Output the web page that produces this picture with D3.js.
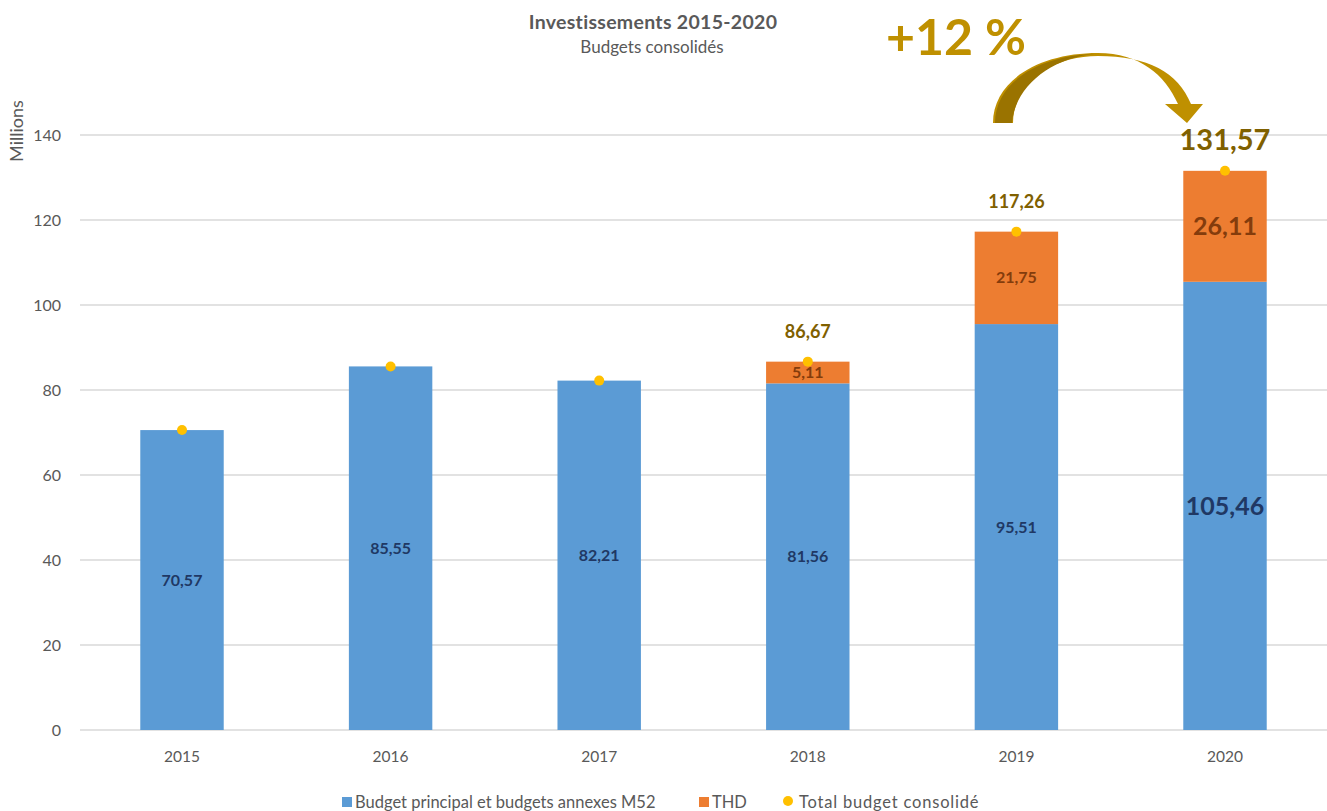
<!DOCTYPE html>
<html><head><meta charset="utf-8">
<script src="https://cdn.jsdelivr.net/npm/d3@7"></script>
<style>body{margin:0;background:#fff;}svg{display:block;font-family:Lato,"Open Sans",sans-serif;}</style>
</head><body>
<svg id="c" width="1327" height="811"></svg>
<script>
const years = ["2015","2016","2017","2018","2019","2020"];
const budgetPrincipal = [70.57, 85.55, 82.21, 81.56, 95.51, 105.46];
const thd = [0, 0, 0, 5.11, 21.75, 26.11];
const totalConsolide = [70.57, 85.55, 82.21, 86.67, 117.26, 131.57];
const showTotalLabel = [false, false, false, true, true, true];
const bigLabel = [false, false, false, false, false, true];
const yTicks = [0, 20, 40, 60, 80, 100, 120, 140];
const legendItems = ["Budget principal et budgets annexes M52", "THD", "Total budget consolidé"];

const svg = d3.select("#c");
const x = d3.scaleBand().domain(years).range([77.7, 1329.3]).paddingInner(0.6).paddingOuter(0.3);
const y = d3.scaleLinear().domain([0, 140]).range([730, 135]);

// gridlines
svg.append("g").selectAll("line").data(yTicks).join("line")
  .attr("x1", 80).attr("x2", 1327)
  .attr("y1", d => y(d)).attr("y2", d => y(d))
  .attr("stroke", "#D9D9D9").attr("stroke-width", 1.3);

// y tick labels
svg.append("g").selectAll("text").data(yTicks).join("text")
  .attr("x", 61).attr("y", d => y(d)).attr("dy", "0.35em")
  .attr("text-anchor", "end").attr("font-size", 16).attr("fill", "#595959")
  .text(d => d);

// x labels
svg.append("g").selectAll("text").data(years).join("text")
  .attr("x", d => x(d) + x.bandwidth()/2).attr("y", 762)
  .attr("text-anchor", "middle").attr("font-size", 15.5).attr("fill", "#595959")
  .text(d => d);

// Millions
svg.append("text").attr("transform", "translate(23,131) rotate(-90)")
  .attr("text-anchor", "middle").attr("font-size", 18).attr("fill", "#595959").text("Millions");

// Title
svg.append("text").attr("x", 653).attr("y", 29).attr("text-anchor", "middle")
  .attr("font-size", 19.5).attr("font-weight", "bold").attr("letter-spacing", 0.3).attr("fill", "#595959").text("Investissements 2015-2020");
svg.append("text").attr("x", 652).attr("y", 53).attr("text-anchor", "middle")
  .attr("font-size", 17).attr("fill", "#595959").text("Budgets consolidés");

const data = years.map((yr, i) => ({yr, b: budgetPrincipal[i], t: thd[i], tot: totalConsolide[i], show: showTotalLabel[i], big: bigLabel[i]}));

// blue bars
svg.append("g").selectAll("rect").data(data).join("rect")
  .attr("x", d => x(d.yr)).attr("width", x.bandwidth())
  .attr("y", d => y(d.b)).attr("height", d => y(0) - y(d.b))
  .attr("fill", "#5B9BD5");
// orange bars
svg.append("g").selectAll("rect").data(data.filter(d => d.t > 0)).join("rect")
  .attr("x", d => x(d.yr)).attr("width", x.bandwidth())
  .attr("y", d => y(d.b + d.t)).attr("height", d => y(d.b) - y(d.b + d.t))
  .attr("fill", "#ED7D31");

const fmt = v => v.toFixed(2).replace(".", ",");
// blue labels
svg.append("g").selectAll("text").data(data).join("text")
  .attr("x", d => x(d.yr) + x.bandwidth()/2).attr("y", d => y(d.b/2)).attr("dy", "0.35em")
  .attr("text-anchor", "middle").attr("font-weight", "bold")
  .attr("font-size", d => d.big ? 25 : 16).attr("fill", "#203864")
  .text(d => fmt(d.b));
// orange labels
svg.append("g").selectAll("text").data(data.filter(d => d.t > 0)).join("text")
  .attr("x", d => x(d.yr) + x.bandwidth()/2).attr("y", d => y(d.b + d.t/2)).attr("dy", "0.35em")
  .attr("text-anchor", "middle").attr("font-weight", "bold")
  .attr("font-size", d => d.big ? 25 : 16).attr("fill", "#843C0C")
  .text(d => fmt(d.t));
// dots
svg.append("g").selectAll("circle").data(data).join("circle")
  .attr("cx", d => x(d.yr) + x.bandwidth()/2).attr("cy", d => y(d.tot)).attr("r", 5)
  .attr("fill", "#FFC000");
// total labels
svg.append("g").selectAll("text").data(data.filter(d => d.show)).join("text")
  .attr("x", d => x(d.yr) + x.bandwidth()/2)
  .attr("y", d => y(d.tot) - (d.big ? 21 : 24))
  .attr("text-anchor", "middle").attr("font-weight", "bold")
  .attr("font-size", d => d.big ? 29 : 18).attr("fill", "#7F6000")
  .text(d => fmt(d.tot));

// +12 %
svg.append("text").attr("x", 956).attr("y", 55).attr("text-anchor", "middle")
  .attr("font-size", 50).attr("font-weight", "bold").attr("fill", "#BF9000").text("+12 %");

// curved arrow (decoration)
svg.append("path")
  .attr("d", "M993,123 C993,80 1040,53 1098,53 C1140,53 1165,75 1178,104 L1165,104 L1187,123 L1203,104 L1191,104 C1178,72 1148,56 1098,56 C1050,56 1013,85 1013,123 Z")
  .attr("fill", "#BF9000");
svg.append("path")
  .attr("d", "M995,123 C995,82 1040,55 1095,54 C1050,58 1015,87 1012,123 Z")
  .attr("fill", "#9A7300");

// legend
const lg = svg.append("g").attr("font-size", 16.5).attr("fill", "#595959");
lg.append("rect").attr("x", 342).attr("y", 797).attr("width", 10).attr("height", 10).attr("fill", "#5B9BD5");
lg.append("text").attr("x", 355).attr("y", 808).text(legendItems[0]);
lg.append("rect").attr("x", 699).attr("y", 797).attr("width", 10).attr("height", 10).attr("fill", "#ED7D31");
lg.append("text").attr("x", 712).attr("y", 808).text(legendItems[1]);
lg.append("circle").attr("cx", 788).attr("cy", 801).attr("r", 5).attr("fill", "#FFC000");
lg.append("text").attr("x", 799).attr("y", 808).attr("letter-spacing", 0.8).text(legendItems[2]);
</script>
</body></html>
